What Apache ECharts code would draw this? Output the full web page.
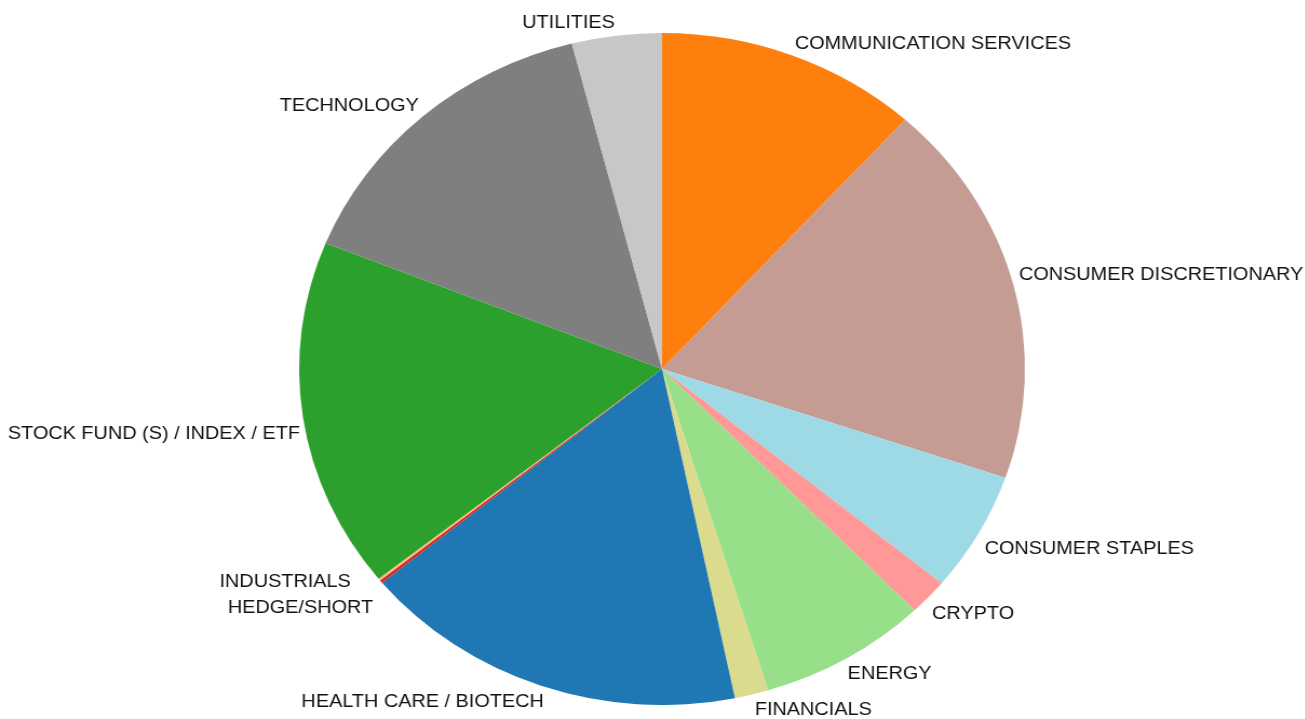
<!DOCTYPE html>
<html>
<head>
<meta charset="utf-8">
<script src="https://cdn.jsdelivr.net/npm/echarts@6/dist/echarts.min.js"></script>
<style>
  html, body { margin: 0; padding: 0; background: #ffffff; overflow: hidden; }
  /* the drawing is widened horizontally so the pie renders as an ellipse */
  #chart { width: 1208px; height: 719px; transform: scaleX(1.08); transform-origin: 0 0; }
</style>
</head>
<body>
<div id="chart"></div>
<script>
// Sector weights (percent of portfolio), clockwise from 12 o'clock
const sectors = [
  'COMMUNICATION SERVICES',
  'CONSUMER DISCRETIONARY',
  'CONSUMER STAPLES',
  'CRYPTO',
  'ENERGY',
  'FINANCIALS',
  'HEALTH CARE / BIOTECH',
  'HEDGE/SHORT',
  'INDUSTRIALS',
  'STOCK FUND (S) / INDEX / ETF',
  'TECHNOLOGY',
  'UTILITIES'
];
const weights = [11.69, 18.56, 5.75, 1.75, 7.53, 1.50, 17.25, 0.14, 0.10, 16.84, 14.89, 4.00];
const sectorColors = [
  '#ff7f0e', '#c49c94', '#9edae5', '#ff9896', '#98df8a', '#dbdb8d',
  '#1f77b4', '#d62728', '#ffbb78', '#2ca02c', '#7f7f7f', '#c7c7c7'
];

// small per-label nudges [dx, dy] from the default outside anchor;
// the two thinnest slices share an angle, so their labels are spread apart
const labelOffsets = {
  'COMMUNICATION SERVICES': [-2, 0],
  'CONSUMER DISCRETIONARY': [-6.5, -7],
  'CONSUMER STAPLES': [-5, 10],
  'CRYPTO': [-5.5, 9],
  'ENERGY': [-5, 5],
  'FINANCIALS': [0, 4],
  'HEALTH CARE / BIOTECH': [6.5, 5],
  'HEDGE/SHORT': [2, 19],
  'INDUSTRIALS': [-17, -5],
  'STOCK FUND (S) / INDEX / ETF': [9, 15],
  'TECHNOLOGY': [4, -1],
  'UTILITIES': [0, -1]
};

const chart = echarts.init(document.getElementById('chart'), null, { renderer: 'canvas' });

chart.setOption({
  animation: false,
  backgroundColor: '#ffffff',
  series: [{
    type: 'pie',
    center: [613, 369],
    radius: 336,
    startAngle: 90,
    clockwise: true,
    avoidLabelOverlap: false,
    silent: true,
    itemStyle: { borderWidth: 0 },
    label: {
      show: true,
      position: 'outside',
      formatter: '{b}',
      fontFamily: 'Liberation Sans, Arial, sans-serif',
      fontSize: 18.4,
      color: '#111111',
      distanceToLabelLine: 0
    },
    labelLine: { show: false, length: 12, length2: 0 },
    data: sectors.map((name, i) => ({
      name: name,
      value: weights[i],
      itemStyle: { color: sectorColors[i] },
      label: { offset: labelOffsets[name] || [0, 0] }
    }))
  }]
});
</script>
</body>
</html>
